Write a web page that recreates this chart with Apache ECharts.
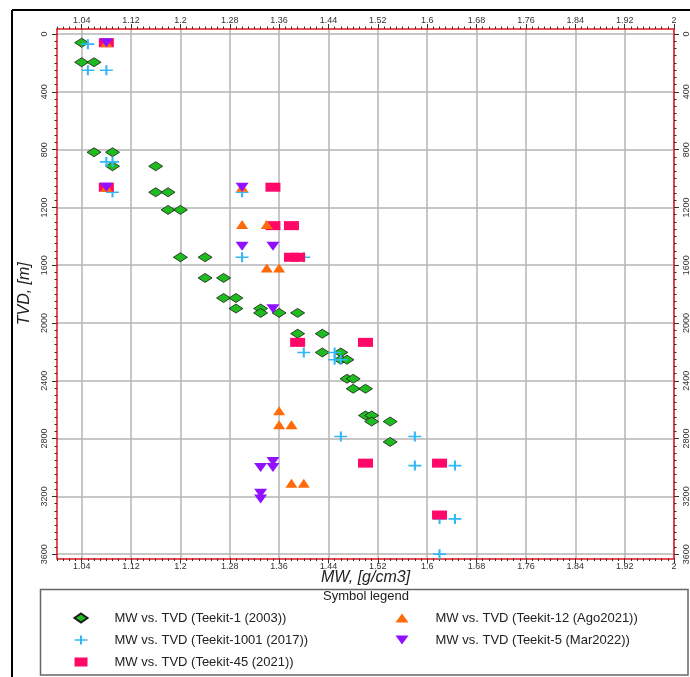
<!DOCTYPE html>
<html>
<head>
<meta charset="utf-8">
<script src="https://cdn.jsdelivr.net/npm/echarts@6/dist/echarts.min.js"></script>
<style>
  html, body { margin: 0; padding: 0; background: #fff; }
  #chart { width: 690px; height: 677px; }
</style>
</head>
<body>
<div id="chart"></div>
<script>
// tick labels
const mwTicks = [1.04, 1.12, 1.2, 1.28, 1.36, 1.44, 1.52, 1.6, 1.68, 1.76, 1.84, 1.92, 2];
const tvdTicks = [0, 400, 800, 1200, 1600, 2000, 2400, 2800, 3200, 3600];

// Teekit-1 (2003)
const mw1 = [1.04, 1.04, 1.06, 1.06, 1.09, 1.09, 1.16, 1.16, 1.18, 1.18, 1.20, 1.20, 1.24, 1.24, 1.27, 1.27, 1.29, 1.29, 1.33, 1.33, 1.36, 1.39, 1.39, 1.43, 1.43, 1.46, 1.46, 1.47, 1.47, 1.48, 1.48, 1.50, 1.50, 1.51, 1.51, 1.54, 1.54];
const tvd1 = [60, 195, 195, 818, 818, 915, 915, 1095, 1095, 1217, 1217, 1545, 1545, 1688, 1688, 1827, 1827, 1900, 1900, 1930, 1930, 1930, 2074, 2074, 2204, 2204, 2254, 2254, 2386, 2386, 2455, 2455, 2640, 2640, 2682, 2682, 2823];

// Teekit-1001 (2017)
const mw1001 = [1.05, 1.05, 1.08, 1.08, 1.09, 1.09, 1.30, 1.30, 1.40, 1.40, 1.45, 1.45, 1.46, 1.46, 1.58, 1.58, 1.645, 1.645, 1.62, 1.62];
const tvd1001 = [70, 250, 250, 885, 885, 1095, 1095, 1545, 1545, 2204, 2204, 2254, 2254, 2786, 2786, 2987, 2987, 3356, 3356, 3600];

// Teekit-45 (2021)
const mw45 = [1.08, 1.08, 1.35, 1.35, 1.38, 1.38, 1.39, 1.39, 1.50, 1.50, 1.62, 1.62];
const tvd45 = [60, 1060, 1060, 1326, 1326, 1545, 1545, 2134, 2134, 2970, 2970, 3329];

// Teekit-12 (Ago2021)
const mw12 = [1.08, 1.08, 1.30, 1.30, 1.34, 1.34, 1.36, 1.36, 1.36, 1.38, 1.38, 1.40];
const tvd12 = [60, 1060, 1060, 1319, 1319, 1619, 1619, 2608, 2705, 2705, 3109, 3109];

// Teekit-5 (Mar2022)
const mw5 = [1.08, 1.08, 1.30, 1.30, 1.35, 1.35, 1.35, 1.35, 1.33, 1.33, 1.33];
const tvd5 = [60, 1060, 1060, 1469, 1469, 1901, 2959, 3000, 3000, 3178, 3218];

const names = [
  'MW vs. TVD (Teekit-1 (2003))',
  'MW vs. TVD (Teekit-1001 (2017))',
  'MW vs. TVD (Teekit-45 (2021))',
  'MW vs. TVD (Teekit-12 (Ago2021))',
  'MW vs. TVD (Teekit-5 (Mar2022))'
];

const pairs = (xs, ys) => xs.map((x, i) => [x, ys[i]]);

// small ticks between the labelled ones
const minorMw = [];
for (let i = 0; i <= 100; i++) minorMw.push(+(1 + i * 0.01).toFixed(2));
const minorTvd = [];
for (let v = 0; v <= 3600; v += 50) minorTvd.push(v);

const red = '#e3161c';
const labelFont = { fontSize: 9, color: '#333', fontFamily: 'Liberation Sans' };
const crossPath = 'path://M0,4.2H10V5.8H0Z M4.2,0H5.8V10H4.2Z';
const downTriangle = 'path://M0,0H10L5,10Z';

function xAxis(position, minor) {
  return {
    type: 'value', min: 1, max: 2, position,
    name: position === 'bottom' && !minor ? 'MW, [g/cm3]' : '',
    nameLocation: 'middle', nameGap: 11, nameMoveOverlap: false,
    nameTextStyle: { fontSize: 16, fontStyle: 'italic', color: '#222', fontFamily: 'Liberation Sans' },
    axisLine: { show: !minor, onZero: false, lineStyle: { color: red, width: 1.5 } },
    axisTick: { show: true, inside: false, length: minor ? 2.5 : 5,
      customValues: minor ? minorMw : mwTicks, lineStyle: { color: '#333', width: 1 } },
    axisLabel: { show: !minor, customValues: mwTicks, margin: 4, ...labelFont },
    splitLine: { show: !minor && position === 'bottom', lineStyle: { color: '#b4b4b4', width: 1.5 } }
  };
}

function yAxis(position, minor) {
  return {
    type: 'value', min: -35, max: 3630, inverse: true, position,
    name: position === 'left' && !minor ? 'TVD, [m]' : '',
    nameLocation: 'middle', nameGap: 24, nameRotate: 90, nameMoveOverlap: false,
    nameTextStyle: { fontSize: 16, fontStyle: 'italic', color: '#222', fontFamily: 'Liberation Sans' },
    axisLine: { show: !minor, onZero: false, lineStyle: { color: red, width: 1.5 } },
    axisTick: { show: true, inside: false, length: minor ? 2.5 : 5,
      customValues: minor ? minorTvd : tvdTicks, lineStyle: { color: '#333', width: 1 } },
    axisLabel: { show: !minor, customValues: tvdTicks, rotate: 90, margin: 8,
      formatter: v => String(v), ...labelFont },
    splitLine: { show: !minor && position === 'left', lineStyle: { color: '#b4b4b4', width: 1.5 } }
  };
}

const chart = echarts.init(document.getElementById('chart'));

const legendText = { fontSize: 13, color: '#222', fontFamily: 'Liberation Sans', lineHeight: 16, padding: [0, 0, 0, 22] };
const legendBase = {
  orient: 'vertical', top: 610, padding: 0, itemGap: 6, itemWidth: 13, itemHeight: 9,
  symbolKeepAspect: false, selectedMode: false, textStyle: legendText
};

chart.setOption({
  animation: false,
  backgroundColor: '#fff',
  grid: { left: 57, right: 16, top: 29, bottom: 118.5, containLabel: false, outerBoundsMode: 'none' },
  xAxis: [xAxis('bottom', false), xAxis('top', false), xAxis('bottom', true), xAxis('top', true)],
  yAxis: [yAxis('left', false), yAxis('right', false), yAxis('left', true), yAxis('right', true)],
  legend: [
    { ...legendBase, left: 73.5, data: names.slice(0, 3) },
    { ...legendBase, left: 395.5, data: [names[3], { name: names[4], icon: downTriangle }] }
  ],
  graphic: [
    { type: 'line', shape: { x1: 12, y1: 10, x2: 12, y2: 677 }, style: { stroke: '#000', lineWidth: 2 } },
    { type: 'line', shape: { x1: 12, y1: 10, x2: 690, y2: 10 }, style: { stroke: '#000', lineWidth: 2 } },
    { type: 'rect', shape: { x: 40.5, y: 589.5, width: 647.5, height: 85.5 },
      style: { fill: 'none', stroke: '#666', lineWidth: 1.5 } },
    { type: 'text', x: 366, y: 590,
      style: { text: 'Symbol legend', fontSize: 13, fill: '#222', fontFamily: 'Liberation Sans', align: 'center' } }
  ],
  series: [
    {
      name: names[0], type: 'scatter', data: pairs(mw1, tvd1),
      symbol: 'diamond', symbolSize: [14, 9],
      itemStyle: { color: '#1fbc1f', borderColor: '#1b1b1b', borderWidth: 0.8, opacity: 1 }
    },
    {
      name: names[1], type: 'scatter', data: pairs(mw1001, tvd1001),
      symbol: crossPath, symbolSize: [13, 10],
      itemStyle: { color: '#33b8f5', opacity: 1 }
    },
    {
      name: names[2], type: 'scatter', data: pairs(mw45, tvd45),
      symbol: 'rect', symbolSize: [15, 9],
      itemStyle: { color: '#ff0868', opacity: 1 }
    },
    {
      name: names[3], type: 'scatter', data: pairs(mw12, tvd12),
      symbol: 'triangle', symbolSize: [12, 9],
      itemStyle: { color: '#ff6a08', opacity: 1 }
    },
    {
      name: names[4], type: 'scatter', data: pairs(mw5, tvd5),
      symbol: downTriangle, symbolSize: [13, 9],
      itemStyle: { color: '#9010ff', opacity: 1 }
    }
  ]
});
</script>
</body>
</html>
